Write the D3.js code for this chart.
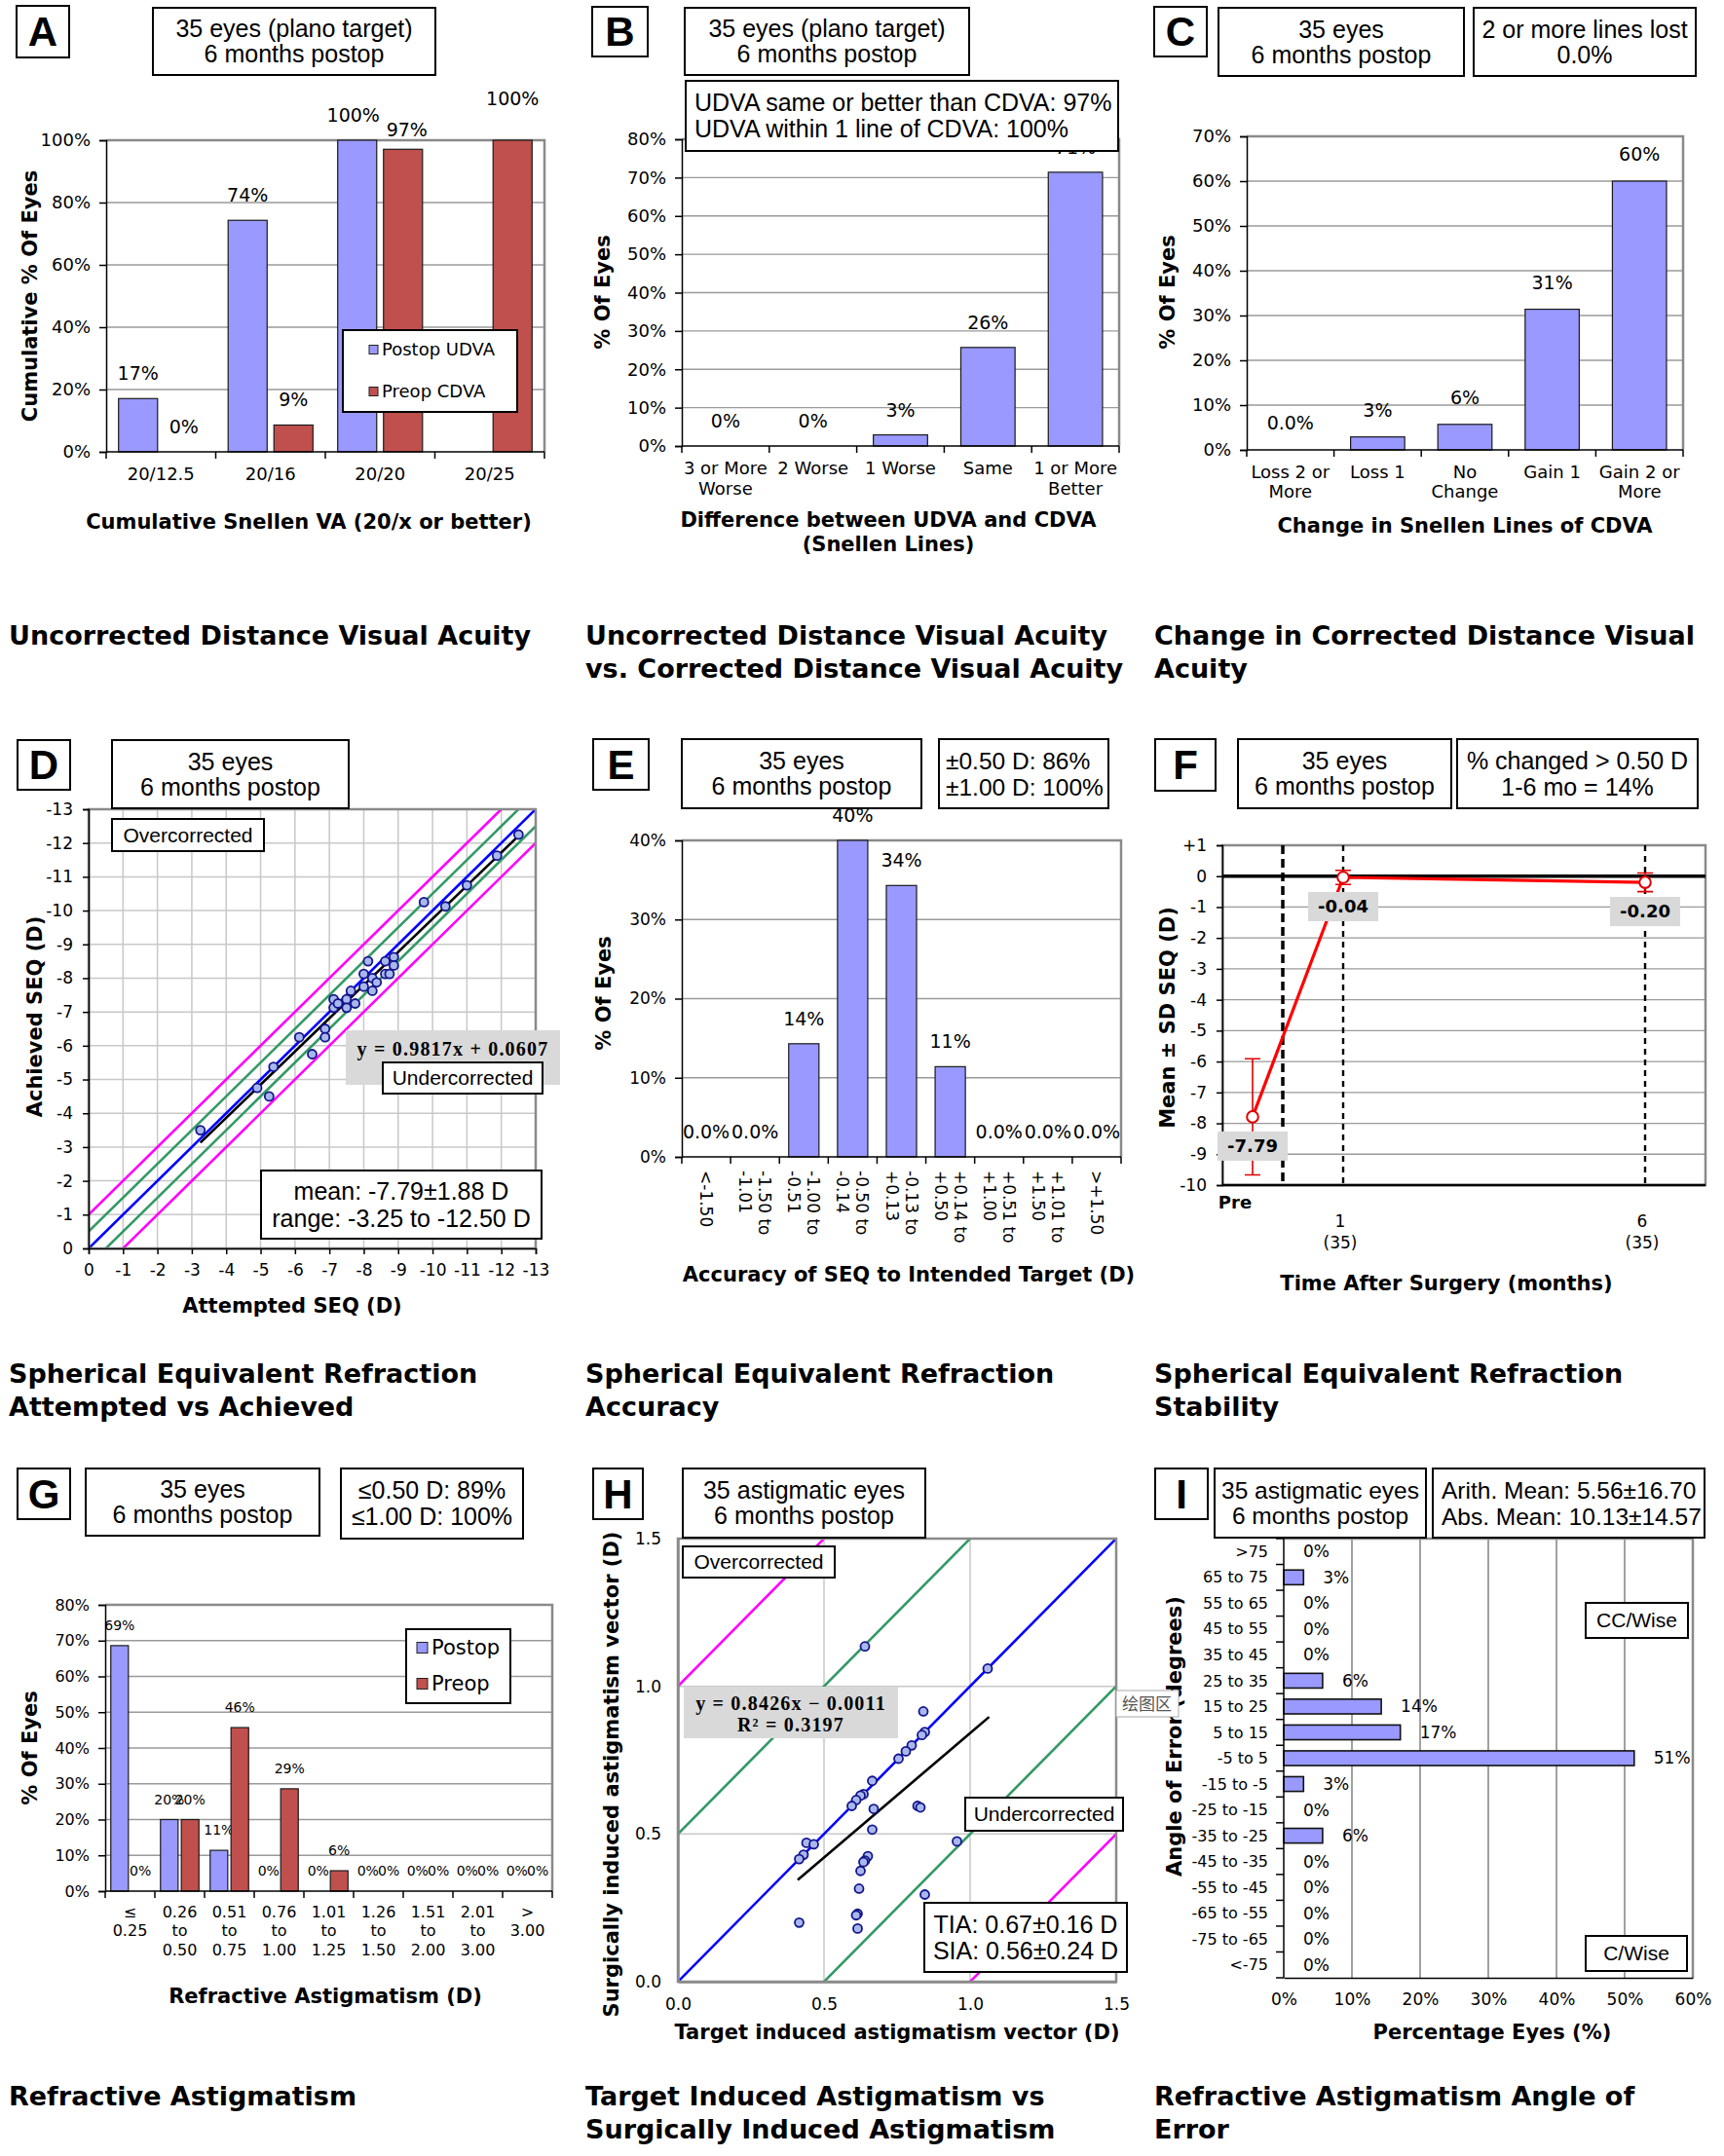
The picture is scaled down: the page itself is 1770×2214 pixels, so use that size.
<!DOCTYPE html>
<html>
<head>
<meta charset="utf-8">
<script src="https://cdn.jsdelivr.net/npm/d3@7"></script>
<style>body{margin:0;background:#fff}</style>
</head>
<body>
<div id="chart"></div>
<script>
// ---------- data ----------
const snellenCats = ['20/12.5', '20/16', '20/20', '20/25'];
const postopUdvaCum = [17.1, 74.3, 100, null];
const preopCdvaCum = [0, 8.6, 97.1, 100];

const udvaCdvaCats = [['3 or More', 'Worse'], ['2 Worse'], ['1 Worse'], ['Same'], ['1 or More', 'Better']];
const udvaCdvaPct = [0, 0, 2.9, 25.7, 71.4];

const cdvaLineCats = [['Loss 2 or', 'More'], ['Loss 1'], ['No', 'Change'], ['Gain 1'], ['Gain 2 or', 'More']];
const cdvaLinePct = [0, 2.9, 5.7, 31.4, 60];

const seqAttempted = [-3.25, -4.9, -5.25, -5.375, -6.125, -6.5, -6.875, -6.875, -7.125, -7.125, -7.25, -7.5, -7.5, -7.625,
  -7.75, -8.0, -8.0, -8.125, -8.25, -8.25, -8.375, -8.625, -8.625, -8.75, -8.875, -8.875, -9.75, -10.375, -11.0, -11.875, -12.5];
const seqAchieved = [-3.5, -4.75, -4.5, -5.375, -6.25, -5.75, -6.5, -6.25, -7.375, -7.125, -7.25, -7.375, -7.125, -7.625,
  -7.25, -8.125, -7.75, -8.5, -8.0, -7.625, -7.875, -8.5, -8.125, -8.125, -8.625, -8.375, -10.25, -10.125, -10.75, -11.625, -12.25];
const seqFit = { slope: 0.9817, intercept: 0.0607, from: -3.25, to: -12.5 };

const accuracyCats = [['<-1.50'], ['-1.50 to', '-1.01'], ['-1.00 to', '-0.51'], ['-0.50 to', '-0.14'], ['-0.13 to', '+0.13'],
  ['+0.14 to', '+0.50'], ['+0.51 to', '+1.00'], ['+1.01 to', '+1.50'], ['>+1.50']];
const accuracyPct = [0, 0, 14.3, 40, 34.3, 11.4, 0, 0, 0];

const stabilityMonths = [-0.5, 1, 6];      // "Pre" sits half a month before surgery
const stabilityMean = [-7.79, -0.04, -0.20];
const stabilitySD = [1.88, 0.23, 0.30];
const stabilityLabels = [['Pre'], ['1', '(35)'], ['6', '(35)']];

const astigCats = [['≤', '0.25'], ['0.26', 'to', '0.50'], ['0.51', 'to', '0.75'], ['0.76', 'to', '1.00'], ['1.01', 'to', '1.25'],
  ['1.26', 'to', '1.50'], ['1.51', 'to', '2.00'], ['2.01', 'to', '3.00'], ['>', '3.00']];
const astigPostop = [68.6, 20, 11.4, 0, 0, 0, 0, 0, 0];
const astigPreop = [0, 20, 45.7, 28.6, 5.7, 0, 0, 0, 0];

const tiaVec = [0.64, 1.06, 0.84, 0.845, 0.835, 0.80, 0.78, 0.755, 0.665, 0.635, 0.625, 0.61, 0.595, 0.67, 0.82, 0.83,
  0.665, 0.955, 0.44, 0.465, 0.43, 0.415, 0.65, 0.64, 0.635, 0.625, 0.62, 0.845, 0.615, 0.61, 0.415, 0.615];
const siaVec = [1.135, 1.06, 0.915, 0.845, 0.835, 0.80, 0.78, 0.755, 0.68, 0.635, 0.63, 0.615, 0.595, 0.585, 0.595, 0.59,
  0.515, 0.475, 0.47, 0.465, 0.43, 0.415, 0.425, 0.41, 0.405, 0.375, 0.315, 0.295, 0.23, 0.225, 0.2, 0.18];
const siaFit = { slope: 0.8426, intercept: -0.0011, from: 0.41, to: 1.065 };

const aoeCats = ['>75', '65 to 75', '55 to 65', '45 to 55', '35 to 45', '25 to 35', '15 to 25', '5 to 15', '-5 to 5',
  '-15 to -5', '-25 to -15', '-35 to -25', '-45 to -35', '-55 to -45', '-65 to -55', '-75 to -65', '<-75'];
const aoePct = [0, 2.9, 0, 0, 0, 5.7, 14.3, 17.1, 51.4, 2.9, 0, 5.7, 0, 0, 0, 0, 0];

// ---------- styles ----------
const BLUE = '#9999ff', RED = '#c0504d', GREEN = '#339966', MAGENTA = '#ff00ff';
const SANS = '"DejaVu Sans", Verdana, sans-serif';
const ARIAL = '"Liberation Sans", Arial, sans-serif';
const SERIF = '"Liberation Serif", "Times New Roman", serif';
const GRID = '#9a9a9a', FRAME = '#8a8a8a';
const TITLE = 21;

const svg = d3.select('#chart').append('svg').attr('width', 1770).attr('height', 2214);
svg.append('rect').attr('width', 1770).attr('height', 2214).attr('fill', '#fff');

function box(x, y, w, h, lines, o = {}) {
  const g = svg.append('g');
  g.append('rect').attr('x', x).attr('y', y).attr('width', w).attr('height', h)
    .attr('fill', o.fill || '#fff').attr('stroke', o.noStroke ? 'none' : '#000').attr('stroke-width', 2);
  const fs = o.size || 25, lh = o.lh || 26;
  const t = g.append('text').attr('font-family', o.font || ARIAL).attr('font-size', fs)
    .attr('font-weight', o.bold ? 'bold' : 'normal').attr('text-anchor', o.start ? 'start' : 'middle');
  const tx = o.start ? x + o.start : x + w / 2;
  const y0 = y + h / 2 - (lines.length - 1) * lh / 2;
  lines.forEach((l, i) => t.append('tspan').attr('x', tx).attr('y', y0 + i * lh).attr('dy', '0.35em').text(l));
}

function letter(x, y, w, h, s) { box(x, y, w, h, [s], { size: 42, bold: true }); }

function txt(x, y, lines, o = {}) {
  const fs = o.size || 18, lh = o.lh || fs * 1.2;
  const t = svg.append('text').attr('font-family', o.font || SANS).attr('font-size', fs)
    .attr('font-weight', o.bold ? 'bold' : 'normal').attr('text-anchor', o.anchor || 'middle').attr('fill', o.fill || '#000');
  if (o.rotate) t.attr('transform', `rotate(${o.rotate},${x},${y})`);
  [].concat(lines).forEach((l, i) => t.append('tspan').attr('x', x).attr('y', y + i * lh).attr('dy', '0.35em').text(l));
  return t;
}

function styleAxis(g, size) {
  g.select('.domain').attr('stroke', '#000').attr('stroke-width', 1.5);
  g.selectAll('.tick line').attr('stroke', '#000').attr('stroke-width', 1.5);
  g.selectAll('.tick text').attr('font-family', SANS).attr('font-size', size).attr('fill', '#000');
}

function caption(x, y, lines) {
  lines.forEach((l, i) => svg.append('text').attr('x', x).attr('y', y + i * 34)
    .attr('font-family', SANS).attr('font-weight', 'bold').attr('font-size', 27).text(l));
}

// vertical bar chart (A, B, C, E, G)
function barPanel(p) {
  const g = svg.append('g');
  const x = d3.scaleBand().domain(d3.range(p.cats.length)).range([p.left, p.right]);
  const y = d3.scaleLinear().domain([0, p.yMax]).range([p.bottom, p.top]);
  const ticks = d3.range(0, p.yMax + 0.001, p.yStep);

  g.selectAll(null).data(ticks.slice(1)).join('line')
    .attr('x1', p.left).attr('x2', p.right).attr('y1', y).attr('y2', y)
    .attr('stroke', GRID).attr('stroke-width', 1.3);
  g.append('path').attr('d', `M${p.left},${p.top}H${p.right}V${p.bottom}`)
    .attr('fill', 'none').attr('stroke', FRAME).attr('stroke-width', 2.5);

  const n = p.series.length;
  const bw = x.bandwidth() * p.barFrac, gap = x.bandwidth() * (p.gapFrac || 0);
  const groupW = n * bw + (n - 1) * gap;
  p.series.forEach((s, si) => {
    const off = (x.bandwidth() - groupW) / 2 + si * (bw + gap);
    const data = s.values.map((v, i) => ({ v, i })).filter(d => d.v !== null);
    g.selectAll(null).data(data).join('rect')
      .attr('x', d => x(d.i) + off).attr('width', bw)
      .attr('y', d => y(d.v)).attr('height', d => y(0) - y(d.v))
      .attr('fill', s.color).attr('stroke', '#1a1a1a').attr('stroke-width', 1.2);
    g.selectAll(null).data(data).join('text')
      .attr('x', d => x(d.i) + off + bw / 2 + (p.labelShift ? p.labelShift(si, d.i) : 0))
      .attr('y', d => y(d.v) - p.labelGap - (p.labelLift ? p.labelLift(si, d.i) : 0))
      .attr('text-anchor', 'middle').attr('font-family', SANS).attr('font-size', p.labelSize || 19)
      .text(d => p.labelFmt(d.v));
  });

  const ya = g.append('g').attr('transform', `translate(${p.left},0)`)
    .call(d3.axisLeft(y).tickValues(ticks).tickFormat(d => d + '%').tickSize(7).tickPadding(9));
  styleAxis(ya, p.tickSize || 18);
  g.append('line').attr('x1', p.left).attr('x2', p.right).attr('y1', p.bottom).attr('y2', p.bottom)
    .attr('stroke', '#000').attr('stroke-width', 1.5);
  g.selectAll(null).data(d3.range(p.cats.length + 1)).join('line')
    .attr('x1', i => p.left + i * x.step()).attr('x2', i => p.left + i * x.step())
    .attr('y1', p.bottom).attr('y2', p.bottom + 7).attr('stroke', '#000').attr('stroke-width', 1.5);

  const fs = p.tickSize || 18;
  p.cats.forEach((c, i) => {
    const cx = x(i) + x.bandwidth() / 2;
    if (p.rotated) {
      const t = g.append('text').attr('transform', `translate(${cx},${p.bottom + 14}) rotate(90)`)
        .attr('font-family', SANS).attr('font-size', fs).attr('text-anchor', 'start');
      c.forEach((l, j) => t.append('tspan').attr('x', 0).attr('y', 6 - (c.length - 1) * p.catLh / 2 + j * p.catLh).text(l));
    } else {
      const t = g.append('text').attr('font-family', SANS).attr('font-size', fs).attr('text-anchor', 'middle');
      c.forEach((l, j) => t.append('tspan').attr('x', cx).attr('y', p.catY + j * p.catLh).attr('dy', '0.35em').text(l));
    }
  });
  txt(p.xTitle.x, p.xTitle.y, p.xTitle.lines, { bold: true, size: TITLE, lh: 25 });
  txt(p.yTitle.x, p.yTitle.y, p.yTitle.text, { bold: true, size: TITLE, rotate: -90 });
  return { x, y, g };
}

function legend(x, y, w, h, items, o) {
  svg.append('rect').attr('x', x).attr('y', y).attr('width', w).attr('height', h)
    .attr('fill', '#fff').attr('stroke', '#000').attr('stroke-width', 2);
  items.forEach((it, i) => {
    const cy = y + o.first + i * o.step;
    svg.append('rect').attr('x', x + o.pad).attr('y', cy - o.sw / 2).attr('width', o.sw).attr('height', o.sw)
      .attr('fill', it.color).attr('stroke', '#222').attr('stroke-width', 1);
    txt(x + o.pad + o.sw + 4, cy, it.name, { anchor: 'start', size: o.size });
  });
}

// scatter with reference bands (D, H)
function scatterPanel(p) {
  const g = svg.append('g');
  const x = d3.scaleLinear().domain(p.domain).range([p.left, p.right]);
  const y = d3.scaleLinear().domain(p.domain).range([p.bottom, p.top]);
  svg.append('clipPath').attr('id', 'clip' + p.id).append('rect')
    .attr('x', p.left).attr('y', p.top).attr('width', p.right - p.left).attr('height', p.bottom - p.top);
  g.selectAll(null).data(p.grid).join('line')
    .attr('x1', x).attr('x2', x).attr('y1', p.top).attr('y2', p.bottom).attr('stroke', '#c8c8c8').attr('stroke-width', 1.5);
  g.selectAll(null).data(p.grid).join('line')
    .attr('y1', y).attr('y2', y).attr('x1', p.left).attr('x2', p.right).attr('stroke', '#c8c8c8').attr('stroke-width', 1.5);
  const refs = [
    { c: -p.outer, col: MAGENTA }, { c: p.outer, col: MAGENTA },
    { c: -p.inner, col: GREEN }, { c: p.inner, col: GREEN }, { c: 0, col: '#0000ff' }];
  const [d0, d1] = p.domain;
  g.selectAll(null).data(refs).join('line').attr('clip-path', `url(#clip${p.id})`)
    .attr('x1', x(d0)).attr('y1', r => y(d0 + r.c)).attr('x2', x(d1)).attr('y2', r => y(d1 + r.c))
    .attr('stroke', r => r.col).attr('stroke-width', 2.6);
  g.append('line').attr('x1', x(p.fit.from)).attr('y1', y(p.fit.slope * p.fit.from + p.fit.intercept))
    .attr('x2', x(p.fit.to)).attr('y2', y(p.fit.slope * p.fit.to + p.fit.intercept))
    .attr('stroke', '#000').attr('stroke-width', 2.6);
  g.selectAll(null).data(p.xs.map((v, i) => [v, p.ys[i]])).join('circle')
    .attr('cx', d => x(d[0])).attr('cy', d => y(d[1])).attr('r', 4.5)
    .attr('fill', '#a8b8ee').attr('stroke', '#14148c').attr('stroke-width', 1.8);
  g.append('rect').attr('x', p.left).attr('y', p.top).attr('width', p.right - p.left).attr('height', p.bottom - p.top)
    .attr('fill', 'none').attr('stroke', FRAME).attr('stroke-width', 2.5);
  const ya = g.append('g').attr('transform', `translate(${p.left},0)`)
    .call(d3.axisLeft(y).tickValues(p.ticks).tickFormat(p.fmt).tickSize(p.tick).tickPadding(p.padY));
  const xa = g.append('g').attr('transform', `translate(0,${p.bottom})`)
    .call(d3.axisBottom(x).tickValues(p.ticks).tickFormat(p.fmt).tickSize(p.tick).tickPadding(p.padX));
  styleAxis(ya, 17); styleAxis(xa, 17);
  if (!p.tick) { ya.select('.domain').attr('stroke', FRAME).attr('stroke-width', 2.5); xa.select('.domain').attr('stroke', FRAME).attr('stroke-width', 2.5); }
  txt(p.xTitle.x, p.xTitle.y, p.xTitle.text, { bold: true, size: TITLE });
  txt(p.yTitle.x, p.yTitle.y, p.yTitle.text, { bold: true, size: TITLE, rotate: -90 });
}

// ---------- A ----------
barPanel({
  left: 109, right: 559, top: 144, bottom: 464, yMax: 100, yStep: 20,
  cats: snellenCats.map(c => [c]),
  series: [{ values: postopUdvaCum, color: BLUE }, { values: preopCdvaCum, color: RED }],
  barFrac: 0.356, gapFrac: 0.062, labelGap: 19,
  labelLift: (si, i) => (si === 1 && i === snellenCats.length - 1) ? 17 : (si === 1 && i === 2 ? -6 : 0),
  labelShift: (si, i) => (i === 2 ? (si === 0 ? -4 : 4) : 0),
  labelFmt: v => Math.round(v) + '%', catY: 487, catLh: 20,
  xTitle: { x: 317, y: 536, lines: ['Cumulative Snellen VA (20/x or better)'] },
  yTitle: { x: 31, y: 304, text: 'Cumulative % Of Eyes' }
});
legend(352, 339, 179, 84, [{ name: 'Postop UDVA', color: BLUE }, { name: 'Preop CDVA', color: RED }],
  { first: 20, step: 43, pad: 27, sw: 9, size: 18 });

// ---------- B ----------
barPanel({
  left: 700, right: 1149, top: 143, bottom: 458, yMax: 80, yStep: 10,
  cats: udvaCdvaCats, series: [{ values: udvaCdvaPct, color: BLUE }],
  barFrac: 0.62, labelGap: 19, labelFmt: v => Math.round(v) + '%', catY: 481, catLh: 21,
  xTitle: { x: 912, y: 534, lines: ['Difference between  UDVA and CDVA', '(Snellen Lines)'] },
  yTitle: { x: 619, y: 300, text: '% Of Eyes' }
});

// ---------- C ----------
barPanel({
  left: 1280, right: 1728, top: 140, bottom: 462, yMax: 70, yStep: 10,
  cats: cdvaLineCats, series: [{ values: cdvaLinePct, color: BLUE }],
  barFrac: 0.62, labelGap: 21, labelFmt: v => v === 0 ? '0.0%' : Math.round(v) + '%', catY: 485, catLh: 20,
  xTitle: { x: 1504, y: 540, lines: ['Change in Snellen Lines of CDVA'] },
  yTitle: { x: 1199, y: 300, text: '% Of Eyes' }
});

// ---------- D ----------
scatterPanel({
  id: 'D', left: 91, right: 550, top: 831, bottom: 1282, domain: [0, -13],
  grid: d3.range(-1, -13, -1), ticks: d3.range(0, -14, -1), fmt: d => String(d), tick: 6, padY: 10, padX: 10,
  inner: 0.5, outer: 1, fit: seqFit, xs: seqAttempted, ys: seqAchieved,
  xTitle: { x: 300, y: 1341, text: 'Attempted SEQ (D)' }, yTitle: { x: 36, y: 1044, text: 'Achieved SEQ (D)' }
});

// ---------- E ----------
barPanel({
  left: 700, right: 1151, top: 863, bottom: 1188, yMax: 40, yStep: 10,
  cats: accuracyCats, series: [{ values: accuracyPct, color: BLUE }],
  barFrac: 0.62, labelGap: 19, labelFmt: v => v === 0 ? '0.0%' : Math.round(v) + '%', rotated: true, catLh: 20, tickSize: 17,
  xTitle: { x: 933, y: 1309, lines: ['Accuracy of SEQ to Intended Target (D)'] },
  yTitle: { x: 620, y: 1020, text: '% Of Eyes' }
});

// ---------- F ----------
(function () {
  const left = 1255, right = 1751, top = 868, bottom = 1217;
  const x = d3.scaleLinear().domain([-1, 7]).range([left, right]);
  const y = d3.scaleLinear().domain([1, -10]).range([top, bottom]);
  const g = svg.append('g');
  const yt = d3.range(1, -11, -1);
  g.selectAll(null).data(yt).join('line').attr('x1', left).attr('x2', right).attr('y1', y).attr('y2', y)
    .attr('stroke', GRID).attr('stroke-width', 1.3);
  g.append('rect').attr('x', left).attr('y', top).attr('width', right - left).attr('height', bottom - top)
    .attr('fill', 'none').attr('stroke', FRAME).attr('stroke-width', 2.5);
  g.append('line').attr('x1', left).attr('x2', right).attr('y1', y(0)).attr('y2', y(0)).attr('stroke', '#000').attr('stroke-width', 3.5);
  g.append('line').attr('x1', x(0)).attr('x2', x(0)).attr('y1', top).attr('y2', bottom)
    .attr('stroke', '#000').attr('stroke-width', 3.5).attr('stroke-dasharray', '9,5');
  g.selectAll(null).data(stabilityMonths.slice(1)).join('line').attr('x1', x).attr('x2', x).attr('y1', top).attr('y2', bottom)
    .attr('stroke', '#000').attr('stroke-width', 2.4).attr('stroke-dasharray', '6,5');
  const ya = g.append('g').attr('transform', `translate(${left},0)`)
    .call(d3.axisLeft(y).tickValues(yt).tickFormat(d => d > 0 ? '+' + d : String(d)).tickSize(6).tickPadding(10));
  styleAxis(ya, 17);
  g.append('line').attr('x1', left).attr('x2', right).attr('y1', bottom).attr('y2', bottom).attr('stroke', '#000').attr('stroke-width', 2.5);

  const pts = stabilityMonths.map((m, i) => ({ m, v: stabilityMean[i], sd: stabilitySD[i] }));
  g.selectAll(null).data(pts).join('path')
    .attr('d', d => `M${x(d.m)},${y(d.v + d.sd)}V${y(d.v - d.sd)}M${x(d.m) - 8},${y(d.v + d.sd)}h16M${x(d.m) - 8},${y(d.v - d.sd)}h16`)
    .attr('stroke', '#e00000').attr('stroke-width', 1.6).attr('fill', 'none');
  g.append('path').datum(pts).attr('d', d3.line().x(d => x(d.m)).y(d => y(d.v)))
    .attr('stroke', '#ff0000').attr('stroke-width', 3.2).attr('fill', 'none');
  g.selectAll(null).data(pts).join('circle').attr('cx', d => x(d.m)).attr('cy', d => y(d.v)).attr('r', 5.8)
    .attr('fill', '#fff').attr('stroke', '#e00000').attr('stroke-width', 2);
  pts.forEach(d => {
    g.append('rect').attr('x', x(d.m) - 36).attr('y', y(d.v) + 15).attr('width', 72).attr('height', 30).attr('fill', '#d9d9d9');
    txt(x(d.m), y(d.v) + 30, d.v.toFixed(2), { bold: true, size: 18 });
  });
  stabilityLabels.forEach((l, i) => {
    if (i === 0) txt(x(stabilityMonths[i]) - 18, bottom + 18, l, { bold: true, size: 18 });
    else txt(x(stabilityMonths[i]) - 3, bottom + 37, l, { size: 17, lh: 22 });
  });
  txt(1485, 1318, 'Time After Surgery (months)', { bold: true, size: TITLE });
  txt(1199, 1045, 'Mean ± SD SEQ (D)', { bold: true, size: TITLE, rotate: -90 });
})();

// ---------- G ----------
barPanel({
  left: 108, right: 567, top: 1648, bottom: 1942, yMax: 80, yStep: 10,
  cats: astigCats, series: [{ values: astigPostop, color: BLUE }, { values: astigPreop, color: RED }],
  barFrac: 0.354, gapFrac: 0.066, labelGap: 16, labelSize: 14, labelFmt: v => Math.round(v) + '%',
  catY: 1963, catLh: 19.5, tickSize: 16,
  xTitle: { x: 334, y: 2050, lines: ['Refractive Astigmatism (D)'] },
  yTitle: { x: 31, y: 1795, text: '% Of Eyes' }
});
legend(417, 1673, 107, 76, [{ name: 'Postop', color: BLUE }, { name: 'Preop', color: RED }],
  { first: 19, step: 37, pad: 11, sw: 11, size: 21 });

// ---------- H ----------
scatterPanel({
  id: 'H', left: 696, right: 1146, top: 1580, bottom: 2035, domain: [0, 1.5],
  grid: [0.5, 1.0], ticks: [0, 0.5, 1.0, 1.5], fmt: d3.format('.1f'), tick: 0, padY: 17, padX: 17,
  inner: 0.5, outer: 1, fit: siaFit, xs: tiaVec, ys: siaVec,
  xTitle: { x: 921, y: 2087, text: 'Target induced astigmatism vector (D)' },
  yTitle: { x: 628, y: 1822, text: 'Surgically induced astigmatism vector (D)' }
});

// ---------- I ----------
(function () {
  const left = 1318, right = 1738, top = 1580, bottom = 2031;
  const x = d3.scaleLinear().domain([0, 60]).range([left, right]);
  const y = d3.scaleBand().domain(aoeCats).range([top, bottom]).paddingInner(0.43).paddingOuter(0.215);
  const g = svg.append('g');
  g.selectAll(null).data(d3.range(10, 60, 10)).join('line').attr('x1', x).attr('x2', x).attr('y1', top).attr('y2', bottom)
    .attr('stroke', FRAME).attr('stroke-width', 1.6);
  g.append('path').attr('d', `M${left},${top}H${right}V${bottom}`).attr('fill', 'none').attr('stroke', FRAME).attr('stroke-width', 2.5);
  const data = aoeCats.map((c, i) => ({ c, v: aoePct[i] }));
  g.selectAll(null).data(data.filter(d => d.v > 0)).join('rect')
    .attr('x', left).attr('y', d => y(d.c)).attr('height', y.bandwidth()).attr('width', d => x(d.v) - left)
    .attr('fill', BLUE).attr('stroke', '#111').attr('stroke-width', 1.6);
  g.selectAll(null).data(data).join('text').attr('x', d => x(d.v) + 20).attr('y', d => y(d.c) + y.bandwidth() / 2).attr('dy', '0.35em')
    .attr('font-family', SANS).attr('font-size', 17).text(d => Math.round(d.v) + '%');
  g.append('line').attr('x1', left).attr('x2', left).attr('y1', top).attr('y2', bottom).attr('stroke', '#000').attr('stroke-width', 1.5);
  g.selectAll(null).data(d3.range(aoeCats.length + 1)).join('line')
    .attr('x1', left - 8).attr('x2', left).attr('y1', i => top + i * y.step()).attr('y2', i => top + i * y.step())
    .attr('stroke', '#000').attr('stroke-width', 1.5);
  g.selectAll(null).data(aoeCats).join('text').attr('x', left - 16).attr('y', c => y(c) + y.bandwidth() / 2).attr('dy', '0.35em')
    .attr('text-anchor', 'end').attr('font-family', SANS).attr('font-size', 16).text(c => c);
  const xa = g.append('g').attr('transform', `translate(0,${bottom})`)
    .call(d3.axisBottom(x).tickValues(d3.range(0, 61, 10)).tickFormat(d => d + '%').tickSize(0).tickPadding(16));
  styleAxis(xa, 17);
  txt(1532, 2087, 'Percentage Eyes (%)', { bold: true, size: TITLE });
  txt(1206, 1783, 'Angle of Error (degrees)', { bold: true, size: TITLE, rotate: -90 });
})();

// ---------- annotation boxes ----------
const eyes6 = ['35 eyes', '6 months postop'];
letter(17, 6, 54, 53, 'A'); box(157, 8, 290, 69, ['35 eyes (plano target)', '6 months postop']);
letter(608, 7, 57, 51, 'B'); box(703, 8, 292, 69, ['35 eyes (plano target)', '6 months postop']);
box(704, 83, 444, 72, ['UDVA same or better than CDVA: 97%', 'UDVA within 1 line of CDVA: 100%'], { start: 9, lh: 27 });
letter(1185, 7, 54, 51, 'C'); box(1251, 8, 252, 70, eyes6); box(1513, 8, 228, 70, ['2 or more lines lost', '0.0%']);

letter(18, 760, 54, 51, 'D'); box(115, 760, 243, 70, eyes6);
box(115, 841, 156, 33, ['Overcorrected'], { size: 21 });
box(355, 1058, 220, 56, [''], { fill: '#d9d9d9', noStroke: true });
txt(465, 1077, 'y = 0.9817x + 0.0607', { font: SERIF, bold: true, size: 20 }).attr('letter-spacing', 1.2);
box(393, 1091, 164, 32, ['Undercorrected'], { size: 21 });
box(268, 1202, 288, 70, ['mean: -7.79±1.88 D', 'range: -3.25 to -12.50 D'], { lh: 28 });

letter(609, 759, 57, 52, 'E'); box(700, 759, 246, 71, eyes6);
box(964, 759, 174, 71, ['±0.50 D: 86%', '±1.00 D: 100%'], { start: 7, lh: 27, size: 24.5 });
letter(1186, 759, 62, 53, 'F'); box(1271, 759, 219, 71, eyes6);
box(1496, 759, 247, 71, ['% changed > 0.50 D', '1-6 mo = 14%'], { lh: 27 });

letter(18, 1508, 54, 52, 'G'); box(88, 1508, 240, 69, eyes6);
box(350, 1508, 187, 72, ['≤0.50 D: 89%', '≤1.00 D: 100%'], { lh: 27 });
letter(609, 1508, 51, 52, 'H'); box(701, 1508, 249, 71, ['35 astigmatic eyes', '6 months postop']);
box(701, 1588, 156, 32, ['Overcorrected'], { size: 21 });
box(702, 1732, 220, 53, [''], { fill: '#d9d9d9', noStroke: true });
txt(812, 1749, 'y = 0.8426x − 0.0011', { font: SERIF, bold: true, size: 20 }).attr('letter-spacing', 1.2);
txt(812, 1771, 'R² = 0.3197', { font: SERIF, bold: true, size: 20 }).attr('letter-spacing', 1.2);
box(991, 1846, 162, 34, ['Undercorrected'], { size: 21 });
box(949, 1954, 208, 71, ['TIA: 0.67±0.16 D', 'SIA: 0.56±0.24 D'], { lh: 27 });
letter(1186, 1508, 54, 52, 'I'); box(1247, 1508, 217, 71, ['35 astigmatic eyes', '6 months postop'], { size: 24.5 });
box(1471, 1508, 279, 71, ['Arith. Mean: 5.56±16.70', 'Abs. Mean: 10.13±14.57'], { start: 9, size: 24.5, lh: 27 });
box(1628, 1646, 105, 36, ['CC/Wise'], { size: 21 });
box(1628, 1988, 104, 36, ['C/Wise'], { size: 21 });

// chart tooltip left in the screenshot
svg.append('rect').attr('x', 1146).attr('y', 1736).attr('width', 64).attr('height', 27)
  .attr('fill', '#fff').attr('stroke', '#aaa').attr('stroke-width', 1);
txt(1152, 1750, '绘图区', { font: '"Noto Sans CJK SC", sans-serif', size: 17, anchor: 'start', fill: '#555' });

// ---------- captions ----------
caption(9, 662, ['Uncorrected Distance Visual Acuity']);
caption(601, 662, ['Uncorrected Distance Visual Acuity', 'vs. Corrected Distance Visual Acuity']);
caption(1185, 662, ['Change in Corrected Distance Visual', 'Acuity']);
caption(9, 1420, ['Spherical Equivalent Refraction', 'Attempted vs Achieved']);
caption(601, 1420, ['Spherical Equivalent Refraction', 'Accuracy']);
caption(1185, 1420, ['Spherical Equivalent Refraction', 'Stability']);
caption(9, 2162, ['Refractive Astigmatism']);
caption(601, 2162, ['Target Induced Astigmatism vs', 'Surgically Induced Astigmatism']);
caption(1185, 2162, ['Refractive Astigmatism Angle of', 'Error']);
</script>
</body>
</html>
